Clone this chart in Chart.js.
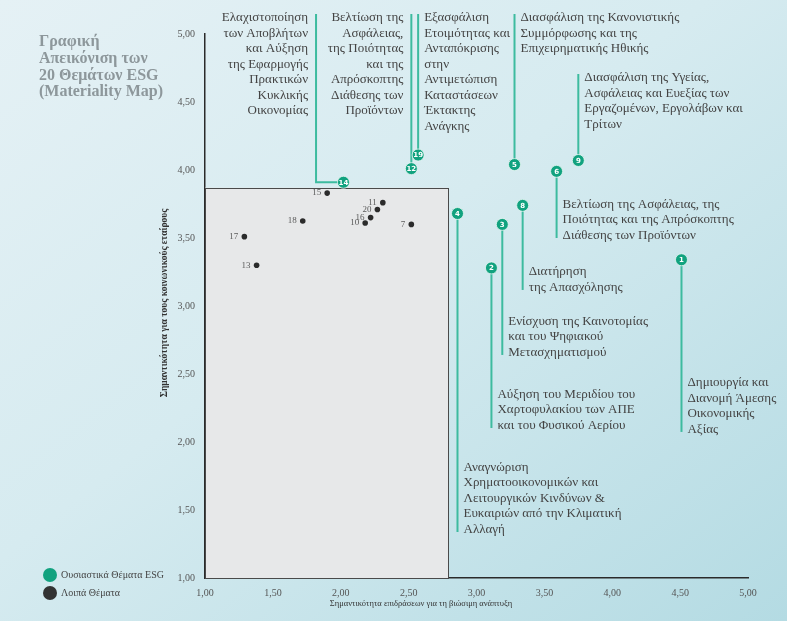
<!DOCTYPE html>
<html lang="el">
<head>
<meta charset="utf-8">
<title>Materiality Map</title>
<script src="https://cdn.jsdelivr.net/npm/chart.js@4.4.1/dist/chart.umd.min.js"></script>
<style>
  html, body { margin: 0; padding: 0; }
  body {
    width: 787px; height: 621px; overflow: hidden;
    background: linear-gradient(to bottom right, #e5f1f5 0%, #d6ebf0 45%, #b4dbe3 100%);
  }
  #wrap { position: relative; width: 787px; height: 621px; }
</style>
</head>
<body>
<div id="wrap"><canvas id="map" width="787" height="621"></canvas></div>
<script>
// Material ESG topics: id, impact on sustainable development (x), stakeholder importance (y)
const esgIds         = [1, 2, 3, 4, 5, 6, 8, 9, 12, 14, 19];
const esgImpact      = [4.51, 3.11, 3.19, 2.86, 3.28, 3.59, 3.34, 3.75, 2.52, 2.02, 2.57];
const esgStakeholder = [3.34, 3.28, 3.60, 3.68, 4.04, 3.99, 3.74, 4.07, 4.01, 3.91, 4.11];

// Remaining topics
const otherIds         = [7, 10, 11, 13, 15, 16, 17, 18, 20];
const otherImpact      = [2.52, 2.18, 2.31, 1.38, 1.90, 2.22, 1.29, 1.72, 2.27];
const otherStakeholder = [3.60, 3.61, 3.76, 3.30, 3.83, 3.65, 3.51, 3.625, 3.71];

// Materiality threshold (grey zone upper-right corner)
const thresholdImpact = 2.79;
const thresholdStakeholder = 3.87;

// Axis ticks
const tickValues = [1, 1.5, 2, 2.5, 3, 3.5, 4, 4.5, 5];

// Topic titles, one entry per text line
const topicNames = {
  1:  ['Δημιουργία και', 'Διανομή Άμεσης', 'Οικονομικής', 'Αξίας'],
  2:  ['Αύξηση του Μεριδίου του', 'Χαρτοφυλακίου των ΑΠΕ', 'και του Φυσικού Αερίου'],
  3:  ['Ενίσχυση της Καινοτομίας', 'και του Ψηφιακού', 'Μετασχηματισμού'],
  4:  ['Αναγνώριση', 'Χρηματοοικονομικών και', 'Λειτουργικών Κινδύνων &', 'Ευκαιριών από την Κλιματική', 'Αλλαγή'],
  5:  ['Διασφάλιση της Κανονιστικής', 'Συμμόρφωσης και της', 'Επιχειρηματικής Ηθικής'],
  6:  ['Βελτίωση της Ασφάλειας, της', 'Ποιότητας και της Απρόσκοπτης', 'Διάθεσης των Προϊόντων'],
  8:  ['Διατήρηση', 'της Απασχόλησης'],
  9:  ['Διασφάλιση της Υγείας,', 'Ασφάλειας και Ευεξίας των', 'Εργαζομένων, Εργολάβων και', 'Τρίτων'],
  12: ['Βελτίωση της', 'Ασφάλειας,', 'της Ποιότητας', 'και της', 'Απρόσκοπτης', 'Διάθεσης των', 'Προϊόντων'],
  14: ['Ελαχιστοποίηση', 'των Αποβλήτων', 'και Αύξηση', 'της Εφαρμογής', 'Πρακτικών', 'Κυκλικής', 'Οικονομίας'],
  19: ['Εξασφάλιση', 'Ετοιμότητας και', 'Ανταπόκρισης', 'στην', 'Αντιμετώπιση', 'Καταστάσεων', 'Έκτακτης', 'Ανάγκης']
};

// Leader-line layout for each material topic (end in y-axis units; elbow in x-axis units)
const calloutLayout = {
  14: { dir: 'up',   end: 5.147, elbow: 1.818, side: 'left' },
  12: { dir: 'up',   end: 5.147, side: 'left' },
  19: { dir: 'up',   end: 5.147, side: 'right' },
  5:  { dir: 'up',   end: 5.147, side: 'right' },
  9:  { dir: 'up',   end: 4.706, side: 'right' },
  6:  { dir: 'down', end: 3.50,  side: 'right' },
  8:  { dir: 'down', end: 3.118, side: 'right' },
  3:  { dir: 'down', end: 2.64,  side: 'right' },
  2:  { dir: 'down', end: 2.103, side: 'right' },
  4:  { dir: 'down', end: 1.338, side: 'right' },
  1:  { dir: 'down', end: 2.074, side: 'right' }
};

const GREEN = '#11a27f';
const LEADER = '#3dbb9f';
const DARK = '#2b2b2b';
const SERIF = '"Liberation Serif", "DejaVu Serif", serif';

const fmt = v => Number(v).toFixed(2).replace('.', ',');

const esgPoints = esgIds.map((id, i) => ({ x: esgImpact[i], y: esgStakeholder[i], id }));
const otherPoints = otherIds.map((id, i) => ({ x: otherImpact[i], y: otherStakeholder[i], id }));

const decorPlugin = {
  id: 'materialityDecor',
  beforeDatasetsDraw(chart) {
    const { ctx, scales: { x, y } } = chart;
    // grey non-material zone
    const left = x.getPixelForValue(1), right = x.getPixelForValue(thresholdImpact);
    const top = y.getPixelForValue(thresholdStakeholder), bottom = y.getPixelForValue(1);
    ctx.save();
    ctx.fillStyle = '#e7e8e9';
    ctx.fillRect(left, top, right - left, bottom - top);
    ctx.strokeStyle = '#4a4a4a';
    ctx.lineWidth = 1;
    ctx.strokeRect(Math.round(left) + 0.5, Math.round(top) + 0.5, Math.round(right - left), Math.round(bottom - top));

    // leader lines and topic titles
    ctx.font = '13px ' + SERIF;
    ctx.fillStyle = '#444444';
    ctx.textBaseline = 'middle';
    const lh = 15.5;
    esgPoints.forEach(p => {
      const c = calloutLayout[p.id];
      const px = x.getPixelForValue(p.x), py = y.getPixelForValue(p.y);
      const lineX = c.elbow !== undefined ? x.getPixelForValue(c.elbow) : px;
      const endY = y.getPixelForValue(c.end);
      ctx.strokeStyle = LEADER;
      ctx.lineWidth = 2;
      ctx.beginPath();
      ctx.moveTo(px, py);
      if (c.elbow !== undefined) ctx.lineTo(lineX, py);
      ctx.lineTo(lineX, endY);
      ctx.stroke();

      const lines = topicNames[p.id];
      const tx = c.side === 'left' ? lineX - 8 : lineX + 6;
      ctx.textAlign = c.side === 'left' ? 'right' : 'left';
      const firstY = c.dir === 'up' ? endY + 4 : endY - 2.5 - (lines.length - 1) * lh;
      lines.forEach((t, i) => ctx.fillText(t, tx, firstY + i * lh));
    });
    ctx.restore();
  },
  afterDatasetsDraw(chart) {
    const { ctx, scales: { x, y } } = chart;
    ctx.save();
    // numbers inside material markers
    ctx.font = 'bold 7px "DejaVu Sans", sans-serif';
    ctx.fillStyle = '#ffffff';
    ctx.textAlign = 'center';
    ctx.textBaseline = 'middle';
    esgPoints.forEach(p => {
      ctx.fillText(String(p.id), x.getPixelForValue(p.x), y.getPixelForValue(p.y) + 0.5);
    });
    // ids next to remaining topics
    ctx.font = '9px ' + SERIF;
    ctx.fillStyle = '#5a5a5a';
    ctx.textAlign = 'right';
    otherPoints.forEach(p => {
      ctx.fillText(String(p.id), x.getPixelForValue(p.x) - 6, y.getPixelForValue(p.y));
    });
    ctx.restore();
  },
  afterDraw(chart) {
    const { ctx, chartArea } = chart;
    ctx.save();
    // heading
    ctx.font = 'bold 16px ' + SERIF;
    ctx.fillStyle = '#8d979b';
    ctx.textAlign = 'left';
    ctx.textBaseline = 'middle';
    ['Γραφική', 'Απεικόνιση των', '20 Θεμάτων ESG', '(Materiality Map)']
      .forEach((t, i) => ctx.fillText(t, 39, 42 + i * 16.7));

    // axis titles
    ctx.fillStyle = '#333333';
    ctx.font = '8.5px ' + SERIF;
    ctx.textAlign = 'center';
    ctx.fillText('Σημαντικότητα επιδράσεων για τη βιώσιμη ανάπτυξη', 421, 604);
    ctx.translate(165, 303);
    ctx.rotate(-Math.PI / 2);
    ctx.font = 'bold 9.5px ' + SERIF;
    ctx.fillText('Σημαντικότητα για τους κοινωνικούς εταίρους', 0, 0);
    ctx.setTransform(1, 0, 0, 1, 0, 0);

    // legend
    const legend = [
      { color: GREEN, text: 'Ουσιαστικά Θέματα ESG', y: 575 },
      { color: '#333333', text: 'Λοιπά Θέματα', y: 593 }
    ];
    ctx.font = '10px ' + SERIF;
    ctx.textAlign = 'left';
    legend.forEach(l => {
      ctx.fillStyle = l.color;
      ctx.beginPath();
      ctx.arc(50, l.y, 7, 0, Math.PI * 2);
      ctx.fill();
      ctx.fillStyle = '#444444';
      ctx.fillText(l.text, 61, l.y);
    });
    ctx.restore();
  }
};

const axisCommon = {
  type: 'linear',
  min: 1,
  max: 5,
  afterBuildTicks(scale) { scale.ticks = tickValues.map(v => ({ value: v })); },
  grid: { display: false, drawTicks: false },
  border: { display: true, color: '#2a2a2a', width: 1.5 },
  ticks: {
    font: { family: SERIF, size: 10 },
    color: '#555555',
    callback: v => fmt(v)
  }
};

new Chart(document.getElementById('map'), {
  type: 'scatter',
  data: {
    datasets: [
      {
        label: 'Ουσιαστικά Θέματα ESG',
        data: esgPoints,
        backgroundColor: GREEN,
        borderColor: '#e8f6f2',
        borderWidth: 0.8,
        pointRadius: 6,
        order: 1
      },
      {
        label: 'Λοιπά Θέματα',
        data: otherPoints,
        backgroundColor: DARK,
        borderColor: DARK,
        borderWidth: 0,
        pointRadius: 2.8,
        order: 2
      }
    ]
  },
  options: {
    responsive: false,
    animation: false,
    layout: { padding: { left: 150, right: 39, top: 34, bottom: 0 } },
    plugins: { legend: { display: false }, tooltip: { enabled: false } },
    scales: {
      x: Object.assign({}, axisCommon, {
        ticks: Object.assign({}, axisCommon.ticks, { padding: 9 }),
        afterFit(s) { s.height = 43; s.paddingLeft = 0; s.paddingRight = 0; }
      }),
      y: Object.assign({}, axisCommon, {
        ticks: Object.assign({}, axisCommon.ticks, { padding: 10 }),
        afterFit(s) { s.width = 55; s.paddingTop = 0; s.paddingBottom = 0; }
      })
    }
  },
  plugins: [decorPlugin]
});
</script>
</body>
</html>
